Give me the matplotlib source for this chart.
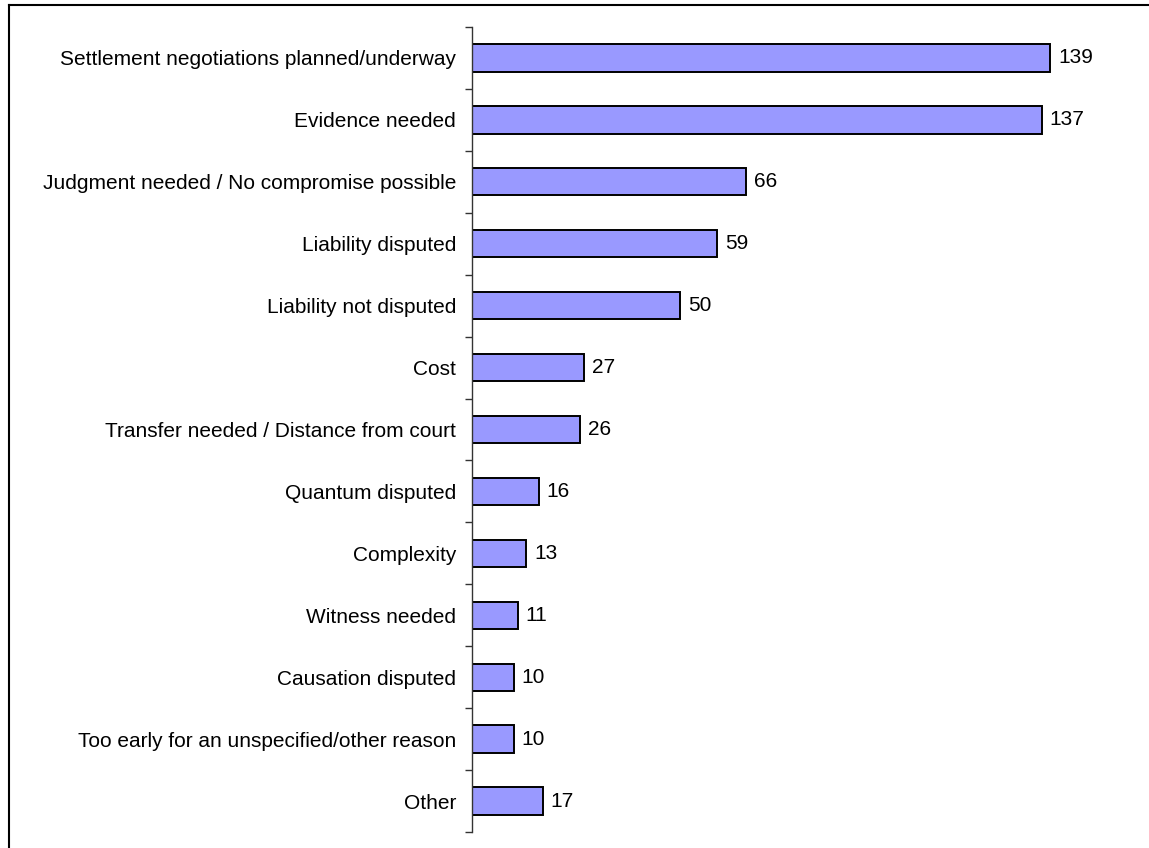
import matplotlib
matplotlib.use("Agg")
import matplotlib.pyplot as plt
from matplotlib.lines import Line2D

plt.rcParams['font.family'] = ['Liberation Sans', 'DejaVu Sans']

categories = [
    "Settlement negotiations planned/underway",
    "Evidence needed",
    "Judgment needed / No compromise possible",
    "Liability disputed",
    "Liability not disputed",
    "Cost",
    "Transfer needed / Distance from court",
    "Quantum disputed",
    "Complexity",
    "Witness needed",
    "Causation disputed",
    "Too early for an unspecified/other reason",
    "Other",
]
counts = [139, 137, 66, 59, 50, 27, 26, 16, 13, 11, 10, 10, 17]

W, H = 1149, 848
fig = plt.figure(figsize=(W / 100, H / 100), dpi=100)
ax = fig.add_axes([472 / W, 1 - 832 / H, 1 - 472 / W, (832 - 27) / H])

ypos = list(range(len(categories)))
ax.barh(ypos, counts, height=0.44, color="#9999FF", edgecolor="black", linewidth=1.4)

for y, v in zip(ypos, counts):
    ax.annotate(str(v), xy=(v, y), xytext=(8, 0), textcoords="offset pixels",
                va="center", ha="left", fontsize=15)

ax.set_ylim(len(categories) - 0.5, -0.5)
ax.set_xlim(0, 162.8)

ax.set_yticks(ypos)
ax.set_yticklabels(categories, fontsize=15)
ax.tick_params(axis="y", which="major", length=0, pad=11.5)
ax.set_yticks([i - 0.5 for i in range(len(categories) + 1)], minor=True)
ax.tick_params(axis="y", which="minor", length=5, width=1, color="#333333", direction="out")

ax.set_xticks([])
for side in ("top", "right", "bottom"):
    ax.spines[side].set_visible(False)
ax.spines["left"].set_linewidth(1.0)
ax.spines["left"].set_color("#333333")

# frame around the chart area (left and top edges)
fig.add_artist(Line2D([8.5 / W, 8.5 / W], [0, 1 - 5 / H], transform=fig.transFigure,
                      color="black", linewidth=1.5))
fig.add_artist(Line2D([8.5 / W, 1], [1 - 5 / H, 1 - 5 / H], transform=fig.transFigure,
                      color="black", linewidth=1.5))

fig.savefig("out.png", dpi=100)
